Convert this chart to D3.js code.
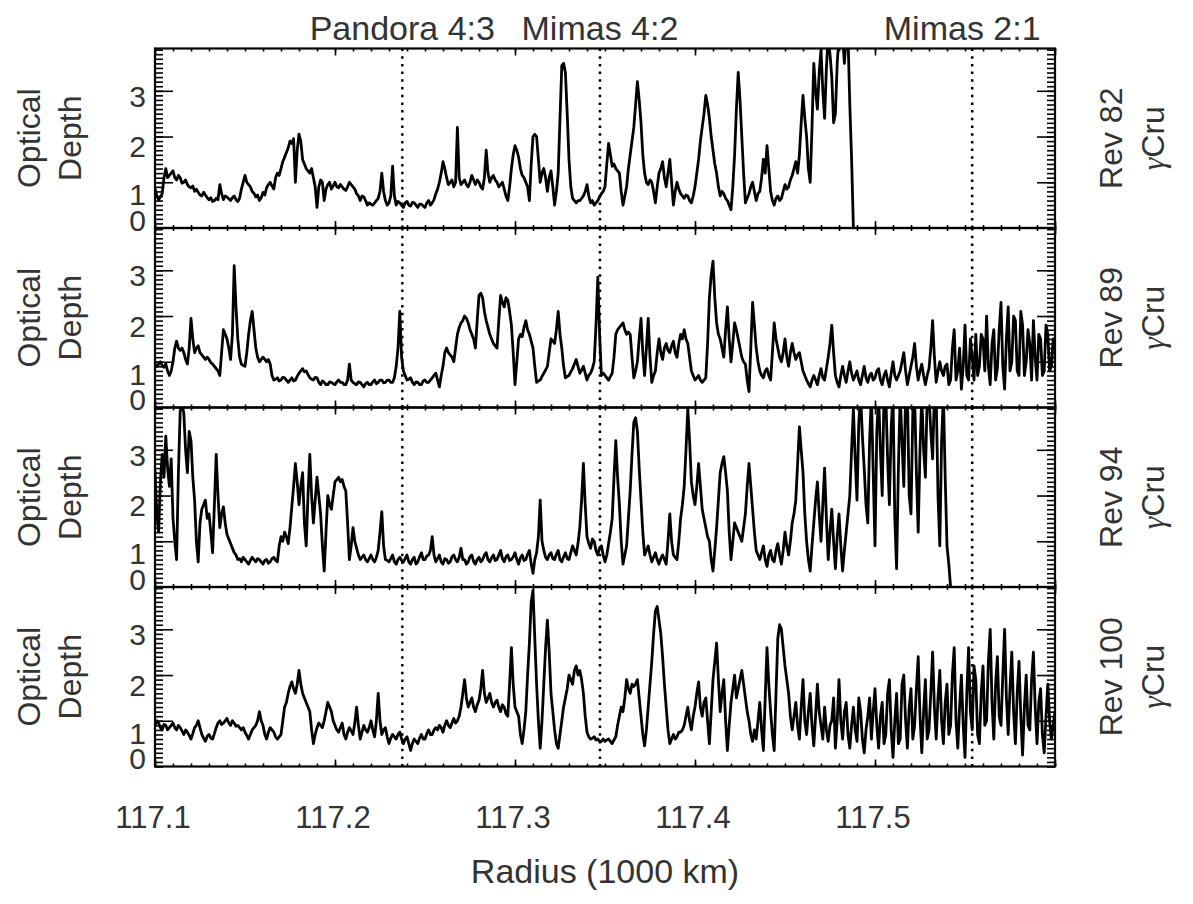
<!DOCTYPE html>
<html>
<head>
<meta charset="utf-8">
<script src="https://cdn.jsdelivr.net/npm/d3@7"></script>
<style>
body { margin: 0; background: #fff; }
text { font-family: "Liberation Sans", Arial, Helvetica, sans-serif; fill: #333; }
</style>
</head>
<body>
<svg id="chart" width="1193" height="904"></svg>
<script>
// scans are sampled on a regular radius grid (1000 km)
var r0 = 117.1, dr = 0.001;

var revs = ['Rev 82', 'Rev 89', 'Rev 94', 'Rev 100'];
var starName = 'Cru';
var resNames = ['Pandora 4:3', 'Mimas 4:2', 'Mimas 2:1'];
var resRadii = [117.2374, 117.3472, 117.554];
var xTicks = [117.1, 117.2, 117.3, 117.4, 117.5];
var yTicks = [0, 1, 2, 3];

// optical depth
var tau82 = [
  0.86,0.7,0.62,0.68,0.75,1.1,1.3,1.1,1.15,1.2,1.25,1.1,1.05,1.15,1.1,0.98,1.0,1.05,0.95,0.9,
  0.88,0.92,0.8,0.85,0.78,0.72,0.7,0.78,0.72,0.66,0.62,0.66,0.58,0.6,0.65,0.62,0.95,0.75,0.62,0.7,
  0.68,0.64,0.6,0.66,0.7,0.62,0.58,0.65,0.85,1.0,1.15,1.0,0.95,0.9,0.8,0.76,0.68,0.72,0.6,0.66,
  0.78,0.72,0.88,0.95,1.0,0.92,0.85,1.1,1.2,1.15,1.3,1.45,1.55,1.65,1.75,1.9,1.85,1.95,1.0,1.7,
  2.05,1.9,1.5,1.4,1.3,1.25,1.2,1.3,1.1,0.9,0.45,0.9,1.05,1.0,0.6,0.85,0.95,1.0,0.85,0.92,
  1.0,0.9,0.88,0.95,0.9,0.85,0.82,0.9,1.0,0.95,0.9,0.85,0.75,0.7,0.6,0.7,0.68,0.6,0.5,0.55,
  0.52,0.5,0.55,0.6,0.65,0.8,1.2,0.8,0.6,0.5,0.55,0.7,1.35,0.7,0.5,0.58,0.55,0.5,0.45,0.55,
  0.58,0.5,0.48,0.56,0.55,0.5,0.45,0.52,0.52,0.48,0.45,0.55,0.6,0.5,0.55,0.62,0.75,0.85,1.0,1.2,
  1.45,1.3,1.1,0.95,1.0,1.05,0.9,1.0,2.2,1.1,0.95,1.0,1.05,0.95,0.9,1.0,1.15,1.05,0.95,1.05,
  1.0,0.9,0.85,1.1,1.7,1.2,1.0,1.1,1.15,1.05,1.0,0.9,0.95,1.0,0.85,0.7,0.6,0.9,1.3,1.6,
  1.8,1.7,1.55,1.3,1.15,1.1,1.0,0.9,0.6,1.4,2.0,2.05,2.0,1.5,1.0,1.2,1.3,1.1,0.8,1.1,
  1.25,0.9,0.5,0.8,1.2,2.4,3.55,3.6,3.4,2.5,1.5,0.9,0.65,0.6,0.55,0.6,0.6,0.65,0.7,0.8,
  0.95,0.7,0.55,0.6,0.5,0.55,0.6,0.68,0.75,0.8,0.9,1.4,1.85,1.6,1.35,1.4,1.3,1.25,1.2,0.8,
  0.5,0.7,0.9,1.3,1.6,1.9,2.2,2.7,3.2,2.8,2.3,1.6,1.2,1.0,0.95,1.05,1.0,0.8,0.55,0.9,
  1.2,1.3,1.45,1.1,0.9,1.2,1.5,1.0,0.5,0.8,1.0,0.85,0.75,0.7,0.65,0.72,0.7,0.6,0.55,0.7,
  0.9,1.2,1.5,1.9,2.2,2.5,2.9,2.7,2.4,2.0,1.7,1.4,1.2,0.9,0.7,0.8,0.75,0.65,0.6,0.5,
  0.4,0.9,1.6,2.6,3.4,2.8,2.0,1.2,0.55,0.65,0.75,0.9,1.0,0.8,0.6,0.75,0.8,1.1,1.5,1.2,
  1.8,1.3,0.8,0.6,0.5,0.65,0.7,0.6,0.65,0.8,0.95,0.85,0.9,1.05,1.15,1.3,1.45,1.2,1.6,2.3,
  2.9,2.4,2.0,1.3,1.0,2.2,3.6,3.0,2.6,3.4,3.9,3.0,2.4,3.5,4.2,3.8,3.3,2.3,2.5,3.6,
  4.2,4.2,4.2,3.6,4.2,4.2,2.7,1.5,0.0
];

var tau89 = [
  0.95,0.9,0.95,1.0,0.92,0.88,0.95,0.8,0.7,0.8,1.0,1.3,1.45,1.3,1.25,1.3,1.2,1.05,0.95,1.3,
  1.95,1.5,1.2,1.3,1.35,1.2,1.15,1.1,1.05,1.1,1.05,0.98,0.95,0.9,0.85,0.8,0.7,1.2,1.7,1.6,
  1.5,1.3,1.05,1.6,3.1,2.2,1.5,1.1,0.95,0.92,0.9,1.2,1.6,1.9,2.1,1.7,1.3,1.1,1.0,1.05,
  1.1,1.05,1.0,1.05,0.95,0.7,0.6,0.62,0.65,0.58,0.6,0.66,0.65,0.6,0.55,0.6,0.65,0.58,0.6,0.68,
  0.75,0.8,0.85,0.78,0.8,0.72,0.65,0.62,0.6,0.66,0.65,0.55,0.5,0.58,0.55,0.5,0.5,0.56,0.55,0.52,
  0.5,0.56,0.6,0.55,0.55,0.5,0.5,0.6,0.95,0.6,0.55,0.52,0.5,0.56,0.55,0.5,0.45,0.52,0.55,0.5,
  0.5,0.56,0.6,0.52,0.55,0.6,0.6,0.54,0.55,0.6,0.6,0.55,0.55,0.65,0.9,1.3,2.1,1.1,0.8,0.7,
  0.6,0.62,0.65,0.55,0.5,0.56,0.55,0.5,0.5,0.58,0.6,0.55,0.55,0.6,0.65,0.7,0.75,0.6,0.45,0.7,
  0.9,1.2,1.3,1.2,1.15,1.1,1.0,1.3,1.6,1.75,1.85,1.9,2.0,1.95,1.85,1.7,1.6,1.5,1.3,1.9,
  2.45,2.5,2.4,2.1,1.9,1.75,1.6,1.5,1.4,1.35,1.3,1.9,2.45,2.3,2.2,2.4,2.35,2.1,1.8,1.2,
  0.5,1.0,1.5,1.6,1.55,1.75,1.9,1.7,1.6,1.45,1.3,0.9,0.55,0.58,0.6,0.68,0.75,0.82,0.9,1.2,
  1.5,1.45,1.4,1.7,2.1,1.6,1.3,0.9,0.65,0.68,0.7,0.78,0.85,0.95,1.05,0.9,0.75,0.82,0.9,0.75,
  0.6,0.7,0.75,0.85,1.0,1.8,2.85,1.6,0.7,0.75,0.7,0.65,0.6,0.68,0.75,1.1,1.6,1.7,1.75,1.8,
  1.85,1.7,1.6,1.65,1.6,1.1,0.65,0.8,1.0,1.5,1.95,1.2,0.7,1.3,1.95,1.1,0.55,0.7,0.8,1.2,
  1.5,1.2,1.05,1.3,1.4,1.25,1.2,1.35,1.45,1.2,1.1,1.4,1.6,1.5,1.7,1.5,1.4,1.1,0.8,0.7,
  0.6,0.65,0.7,0.6,0.55,0.6,0.65,1.4,2.4,2.9,3.2,2.4,1.85,1.6,1.5,1.3,1.1,1.7,2.2,1.5,
  1.0,1.4,1.85,1.7,1.5,1.3,1.1,1.0,0.95,0.6,0.35,1.3,2.3,1.8,1.3,1.0,0.8,0.7,0.65,0.8,
  0.85,0.7,0.6,1.2,1.85,1.5,1.3,1.1,1.0,1.2,1.5,1.1,0.9,1.2,1.4,1.2,1.05,1.15,1.2,1.0,
  0.8,0.7,0.6,0.52,0.45,0.6,0.7,0.6,0.5,0.7,0.85,0.65,0.6,0.85,1.1,1.4,1.8,1.2,0.7,0.55,
  0.45,0.7,0.9,0.7,0.55,0.8,1.0,0.75,0.6,0.7,0.8,0.6,0.5,0.7,0.9,0.65,0.55,0.7,0.75,0.6,
  0.65,0.8,0.85,0.6,0.5,0.7,0.8,0.6,0.45,0.75,1.0,0.7,0.6,0.7,0.8,1.0,1.2,0.8,0.5,0.7,
  0.9,1.1,1.4,0.9,0.6,0.8,0.95,0.7,0.5,0.7,0.85,1.3,1.9,1.1,0.55,0.8,1.0,0.8,0.7,0.9,
  0.95,0.5,0.6,1.3,1.7,0.6,0.8,1.3,0.4,0.9,1.8,0.7,0.6,1.5,1.1,0.6,1.6,0.7,0.9,1.6,
  1.5,0.8,2.0,0.9,0.5,1.4,1.7,0.6,0.85,1.7,2.3,0.9,0.4,1.5,2.2,0.8,1.0,2.0,1.9,0.8,
  0.7,2.1,1.8,0.7,1.0,1.7,1.4,0.6,1.9,1.1,0.6,1.6,1.5,0.7,0.8,1.8,1.6,0.8,0.9,1.5,
  1.3
];

var tau94 = [
  2.55,1.6,1.2,2.3,2.9,2.4,3.3,2.6,2.2,2.8,1.5,1.0,0.6,2.5,3.85,4.0,3.8,3.0,2.5,3.4,
  3.2,2.4,1.9,1.0,0.55,1.4,1.7,1.8,1.9,1.5,1.6,1.2,0.75,1.8,2.9,2.0,1.3,1.6,1.75,1.4,
  1.15,1.05,0.95,0.85,0.75,0.7,0.6,0.62,0.55,0.65,0.6,0.55,0.5,0.58,0.65,0.6,0.55,0.62,0.6,0.55,
  0.5,0.58,0.6,0.52,0.55,0.62,0.65,0.58,0.55,0.9,1.1,1.0,1.2,1.1,0.95,1.3,1.75,2.2,2.7,2.3,
  1.8,2.2,2.5,1.4,0.9,2.0,2.9,2.0,1.4,1.9,2.4,2.0,1.6,0.9,0.35,1.2,2.0,1.8,1.7,2.0,
  2.3,2.35,2.4,2.3,2.35,2.2,2.1,1.4,0.6,0.9,1.3,1.0,0.85,0.7,0.6,0.65,0.7,0.6,0.55,0.62,
  0.7,0.6,0.55,0.65,0.8,1.2,1.65,0.9,0.6,0.58,0.55,0.62,0.7,0.55,0.5,0.6,0.65,0.58,0.55,0.62,
  0.7,0.55,0.5,0.6,0.65,0.5,0.55,0.66,0.75,0.6,0.6,0.68,0.7,0.8,1.1,0.7,0.55,0.62,0.7,0.55,
  0.5,0.62,0.6,0.52,0.55,0.66,0.7,0.6,0.55,0.65,0.85,0.6,0.6,0.5,0.55,0.66,0.7,0.56,0.5,0.6,
  0.65,0.55,0.6,0.7,0.75,0.6,0.55,0.64,0.7,0.58,0.6,0.7,0.8,0.62,0.55,0.66,0.7,0.58,0.6,0.66,
  0.75,0.6,0.5,0.64,0.7,0.58,0.6,0.72,0.8,0.5,0.3,0.6,0.75,1.1,1.9,1.0,0.8,0.65,0.6,0.7,
  0.75,0.62,0.6,0.72,0.8,0.6,0.55,0.66,0.75,0.62,0.6,0.75,0.9,0.8,0.7,0.95,1.3,1.9,2.7,1.8,
  1.1,0.95,0.85,1.05,1.0,0.8,0.7,0.85,0.9,0.7,0.55,0.7,0.95,1.2,1.5,2.4,3.2,2.4,1.8,1.0,
  0.5,0.7,0.9,1.5,2.1,2.9,3.6,3.7,3.4,2.6,1.9,1.2,0.7,0.8,0.9,0.7,0.55,0.65,0.75,0.6,
  0.5,0.62,0.7,0.6,0.5,1.0,1.6,1.0,0.7,0.65,0.6,1.0,1.5,1.8,2.2,3.0,3.9,3.2,2.3,2.0,
  1.8,2.2,2.7,2.2,1.7,1.5,1.3,1.1,1.0,0.6,0.35,0.8,1.3,1.9,2.5,2.7,2.85,2.5,2.1,1.2,
  0.6,1.0,1.4,1.3,1.2,1.1,1.0,1.3,1.6,2.2,2.7,2.2,1.7,1.2,0.8,0.7,0.6,0.75,0.9,0.6,
  0.45,0.7,0.8,0.6,0.55,0.8,0.95,0.7,0.5,0.8,1.2,0.9,0.7,1.0,1.4,1.6,1.9,2.7,3.5,3.0,
  2.5,1.6,1.0,0.6,0.35,0.9,1.4,1.9,2.3,1.6,1.0,1.8,2.6,1.5,0.6,1.2,1.7,1.0,0.4,1.1,
  1.6,0.9,0.35,0.8,1.2,1.6,2.0,3.0,3.9,2.8,1.9,3.6,4.2,3.3,2.6,1.8,1.4,3.2,4.2,2.5,
  0.9,3.4,4.2,3.0,2.0,4.2,4.2,2.8,1.8,3.5,4.2,1.5,0.4,2.6,4.2,3.2,2.2,4.2,4.2,2.0,
  1.6,3.8,4.2,2.5,1.2,3.0,4.2,3.0,2.4,4.2,4.2,3.4,2.8,4.2,4.2,2.0,0.9,3.2,4.2,2.4,
  0.9,0.5,0.0
];

var tau100 = [
  0.9,1.0,0.95,0.85,0.8,0.92,0.9,0.8,0.85,0.9,0.95,0.85,0.8,0.9,0.85,0.78,0.7,0.8,0.75,0.68,
  0.6,0.72,0.85,0.9,1.0,0.85,0.7,0.62,0.55,0.66,0.7,0.62,0.6,0.72,0.85,0.95,1.0,0.92,0.95,1.0,
  1.05,0.95,0.9,1.0,0.95,0.88,0.9,0.85,0.8,0.85,0.75,0.68,0.6,0.7,0.8,0.85,0.9,1.0,1.2,1.0,
  0.9,0.7,0.6,0.75,0.85,0.8,0.75,0.65,0.6,0.65,0.7,1.0,1.3,1.4,1.6,1.75,1.85,1.7,1.6,1.8,
  2.1,1.8,1.6,1.5,1.4,1.3,1.2,0.8,0.5,0.7,0.85,0.95,0.9,0.85,1.0,1.2,1.4,1.3,1.2,1.0,
  0.9,0.8,0.75,0.85,0.95,0.7,0.6,0.75,0.85,0.78,0.7,0.95,1.3,0.9,0.6,0.75,0.9,0.8,0.75,0.85,
  1.0,0.8,0.65,1.0,1.6,1.0,0.7,0.8,0.85,0.65,0.5,0.62,0.7,0.65,0.6,0.7,0.75,0.6,0.5,0.6,
  0.65,0.5,0.35,0.5,0.6,0.55,0.5,0.62,0.7,0.6,0.6,0.72,0.8,0.7,0.7,0.8,0.85,0.8,0.9,0.85,
  0.75,0.9,1.0,0.9,0.85,0.95,1.05,0.95,1.0,1.1,1.3,1.6,1.9,1.5,1.3,1.4,1.5,1.3,1.2,1.35,
  1.45,1.7,2.1,1.6,1.4,1.5,1.6,1.4,1.3,1.4,1.45,1.3,1.2,1.35,1.3,1.15,1.1,1.8,2.6,1.8,
  1.3,1.2,1.1,0.7,0.5,0.8,1.2,2.0,2.7,3.6,3.85,2.8,1.8,1.0,0.4,1.0,1.8,2.6,3.2,2.5,
  1.6,1.2,0.8,0.5,0.4,0.7,1.0,1.3,1.5,1.7,2.0,1.9,1.8,2.1,2.2,2.0,2.1,1.9,1.6,1.1,
  0.75,0.65,0.6,0.62,0.65,0.58,0.6,0.55,0.55,0.6,0.55,0.58,0.6,0.55,0.5,0.58,0.65,0.9,1.1,1.3,
  1.2,1.5,1.9,1.7,1.6,1.8,1.75,1.8,1.9,1.5,1.1,0.7,0.45,0.8,1.3,1.8,2.3,2.9,3.4,3.5,
  3.2,2.9,2.4,1.8,1.3,0.8,0.5,0.6,0.7,0.6,0.65,0.75,0.75,0.8,0.9,1.1,1.3,1.0,0.8,1.1,
  1.3,1.6,1.85,1.3,1.1,1.4,1.5,1.0,0.5,1.2,1.9,2.3,2.7,1.9,1.2,1.6,1.9,1.0,0.35,0.9,
  1.4,1.7,2.0,1.5,1.7,1.9,2.1,1.8,1.5,1.2,1.0,0.7,0.55,0.8,0.6,1.0,1.4,0.8,0.35,1.5,
  2.6,1.8,1.2,0.7,0.35,1.6,2.8,3.1,3.0,2.6,2.2,1.9,1.6,1.1,0.8,1.1,1.4,0.9,0.6,1.3,
  1.9,1.0,0.7,1.2,1.6,0.9,0.45,1.1,1.8,1.2,0.9,0.6,1.3,0.8,0.55,0.9,1.0,1.5,0.4,1.0,
  1.9,1.0,0.6,1.2,1.4,0.7,0.4,0.9,1.3,0.8,0.55,1.5,1.2,0.6,0.3,0.8,1.1,1.5,0.6,1.2,
  1.7,0.9,0.4,1.1,1.4,0.5,0.7,1.6,1.9,0.8,0.2,1.0,1.6,0.5,0.6,1.8,2.0,1.0,0.4,1.3,
  1.7,0.6,0.9,1.7,2.4,1.1,0.3,1.2,1.9,0.6,0.8,1.6,2.5,1.3,0.6,1.5,2.1,1.0,0.5,1.4,
  1.8,0.7,0.9,2.0,2.6,1.0,0.4,1.3,2.0,0.9,0.2,1.6,2.6,1.2,0.8,2.2,1.9,0.7,0.5,1.6,
  2.2,0.9,1.0,2.3,3.0,1.4,0.6,1.8,2.4,1.1,0.9,2.0,3.0,1.5,0.7,1.7,2.5,1.2,0.5,1.6,
  2.3,1.1,0.25,1.3,2.0,0.9,0.8,1.9,2.5,1.3,0.5,1.4,1.7,0.7,0.3,1.1,1.8,1.0,0.6,0.9,
  1.2
];

var series = [tau82, tau89, tau94, tau100];

var left = 155, right = 1055, top0 = 48.5, ph = 179.5;
var svg = d3.select('#chart');

var x = d3.scaleLinear().domain([117.1, 117.6]).range([left, right]);

var minorX = d3.range(0, 51).map(function(k) { return 117.1 + k * 0.01; }),
    majorX = d3.range(0, 6).map(function(k) { return 117.1 + k * 0.1; }),
    minorY = d3.range(0, 40).map(function(k) { return k / 10; });

// IDL put the y labels a little off their ticks
var labelNudge = [-8, 12, 9.7, 5.3];

function ticks(sel, axis) {
  sel.call(axis);
  sel.select('.domain').remove();
  sel.selectAll('line').attr('stroke', '#000').attr('stroke-width', 1.6);
}

series.forEach(function(tau, p) {
  var top = top0 + p * ph, bottom = top + ph, mid = top + ph / 2;
  var y = d3.scaleLinear().domain([0, 3.925]).range([bottom, top]);
  var g = svg.append('g');

  g.append('clipPath').attr('id', 'clip' + p)
    .append('rect')
    .attr('x', left).attr('y', top)
    .attr('width', right - left).attr('height', ph);

  // resonance locations
  g.selectAll('.res')
    .data(resRadii)
    .enter().append('line')
      .attr('class', 'res')
      .attr('x1', function(d) { return x(d); })
      .attr('x2', function(d) { return x(d); })
      .attr('y1', top).attr('y2', bottom)
      .attr('stroke', '#000')
      .attr('stroke-width', 2.5)
      .attr('stroke-dasharray', '2.5,5.2');

  var line = d3.line()
    .x(function(d, i) { return x(r0 + i * dr); })
    .y(function(d) { return y(d); });

  g.append('path')
    .datum(tau)
    .attr('clip-path', 'url(#clip' + p + ')')
    .attr('d', line)
    .attr('fill', 'none')
    .attr('stroke', '#000')
    .attr('stroke-width', 2.8)
    .attr('stroke-linejoin', 'round');

  // ticks on all four sides, pointing in
  g.append('g').attr('transform', 'translate(0,' + bottom + ')')
    .call(ticks, d3.axisBottom(x).tickValues(minorX).tickSize(-3).tickFormat(''));
  g.append('g').attr('transform', 'translate(0,' + bottom + ')')
    .call(ticks, d3.axisBottom(x).tickValues(majorX).tickSize(-7).tickFormat(''));
  g.append('g').attr('transform', 'translate(0,' + top + ')')
    .call(ticks, d3.axisTop(x).tickValues(minorX).tickSize(-3).tickFormat(''));
  g.append('g').attr('transform', 'translate(0,' + top + ')')
    .call(ticks, d3.axisTop(x).tickValues(majorX).tickSize(-7).tickFormat(''));

  g.append('g').attr('transform', 'translate(' + left + ',0)')
    .call(ticks, d3.axisLeft(y).tickValues(minorY).tickSize(-8).tickFormat(''));
  g.append('g').attr('transform', 'translate(' + left + ',0)')
    .call(ticks, d3.axisLeft(y).tickValues([1, 2, 3]).tickSize(-18).tickFormat(''));
  g.append('g').attr('transform', 'translate(' + right + ',0)')
    .call(ticks, d3.axisRight(y).tickValues(minorY).tickSize(-8).tickFormat(''));
  g.append('g').attr('transform', 'translate(' + right + ',0)')
    .call(ticks, d3.axisRight(y).tickValues([1, 2, 3]).tickSize(-18).tickFormat(''));

  g.append('rect')
    .attr('x', left).attr('y', top)
    .attr('width', right - left).attr('height', ph)
    .attr('fill', 'none')
    .attr('stroke', '#000')
    .attr('stroke-width', 2.2);

  // y tick labels
  g.selectAll('.ylab')
    .data(yTicks)
    .enter().append('text')
      .attr('class', 'ylab')
      .attr('x', 146)
      .attr('y', function(d) { return y(d) + labelNudge[d]; })
      .attr('dy', '0.36em')
      .attr('text-anchor', 'end')
      .style('font-size', '30px')
      .text(function(d) { return d; });

  g.append('text')
    .attr('transform', 'translate(40,' + mid + ') rotate(-90)')
    .attr('text-anchor', 'middle')
    .style('font-size', '32px')
    .text('Optical');
  g.append('text')
    .attr('transform', 'translate(81,' + mid + ') rotate(-90)')
    .attr('text-anchor', 'middle')
    .style('font-size', '32px')
    .text('Depth');

  g.append('text')
    .attr('transform', 'translate(1122,' + mid + ') rotate(-90)')
    .attr('text-anchor', 'middle')
    .style('font-size', '32px')
    .text(revs[p]);
  var star = g.append('text')
    .attr('transform', 'translate(1164,' + mid + ') rotate(-90)')
    .attr('text-anchor', 'middle')
    .style('font-size', '32px');
  star.append('tspan')
    .style('font-family', '"Liberation Serif", "DejaVu Serif", serif')
    .style('font-style', 'italic')
    .text('\u03b3');
  star.append('tspan').text(starName);
});

// resonance names above the top panel
svg.selectAll('.resname')
  .data(resNames)
  .enter().append('text')
    .attr('class', 'resname')
    .attr('x', function(d, i) { return x(resRadii[i]) - (i == 2 ? 10 : 0); })
    .attr('y', 40)
    .attr('text-anchor', 'middle')
    .style('font-size', '34px')
    .text(function(d) { return d; });

// x tick labels and title
svg.selectAll('.xlab')
  .data(xTicks)
  .enter().append('text')
    .attr('class', 'xlab')
    .attr('x', function(d) { return x(d) - 2; })
    .attr('y', 828)
    .attr('text-anchor', 'middle')
    .style('font-size', '31px')
    .text(function(d) { return d3.format('.1f')(d); });

svg.append('text')
  .attr('x', 605)
  .attr('y', 883)
  .attr('text-anchor', 'middle')
  .style('font-size', '34px')
  .text('Radius (1000 km)');
</script>
</body>
</html>
